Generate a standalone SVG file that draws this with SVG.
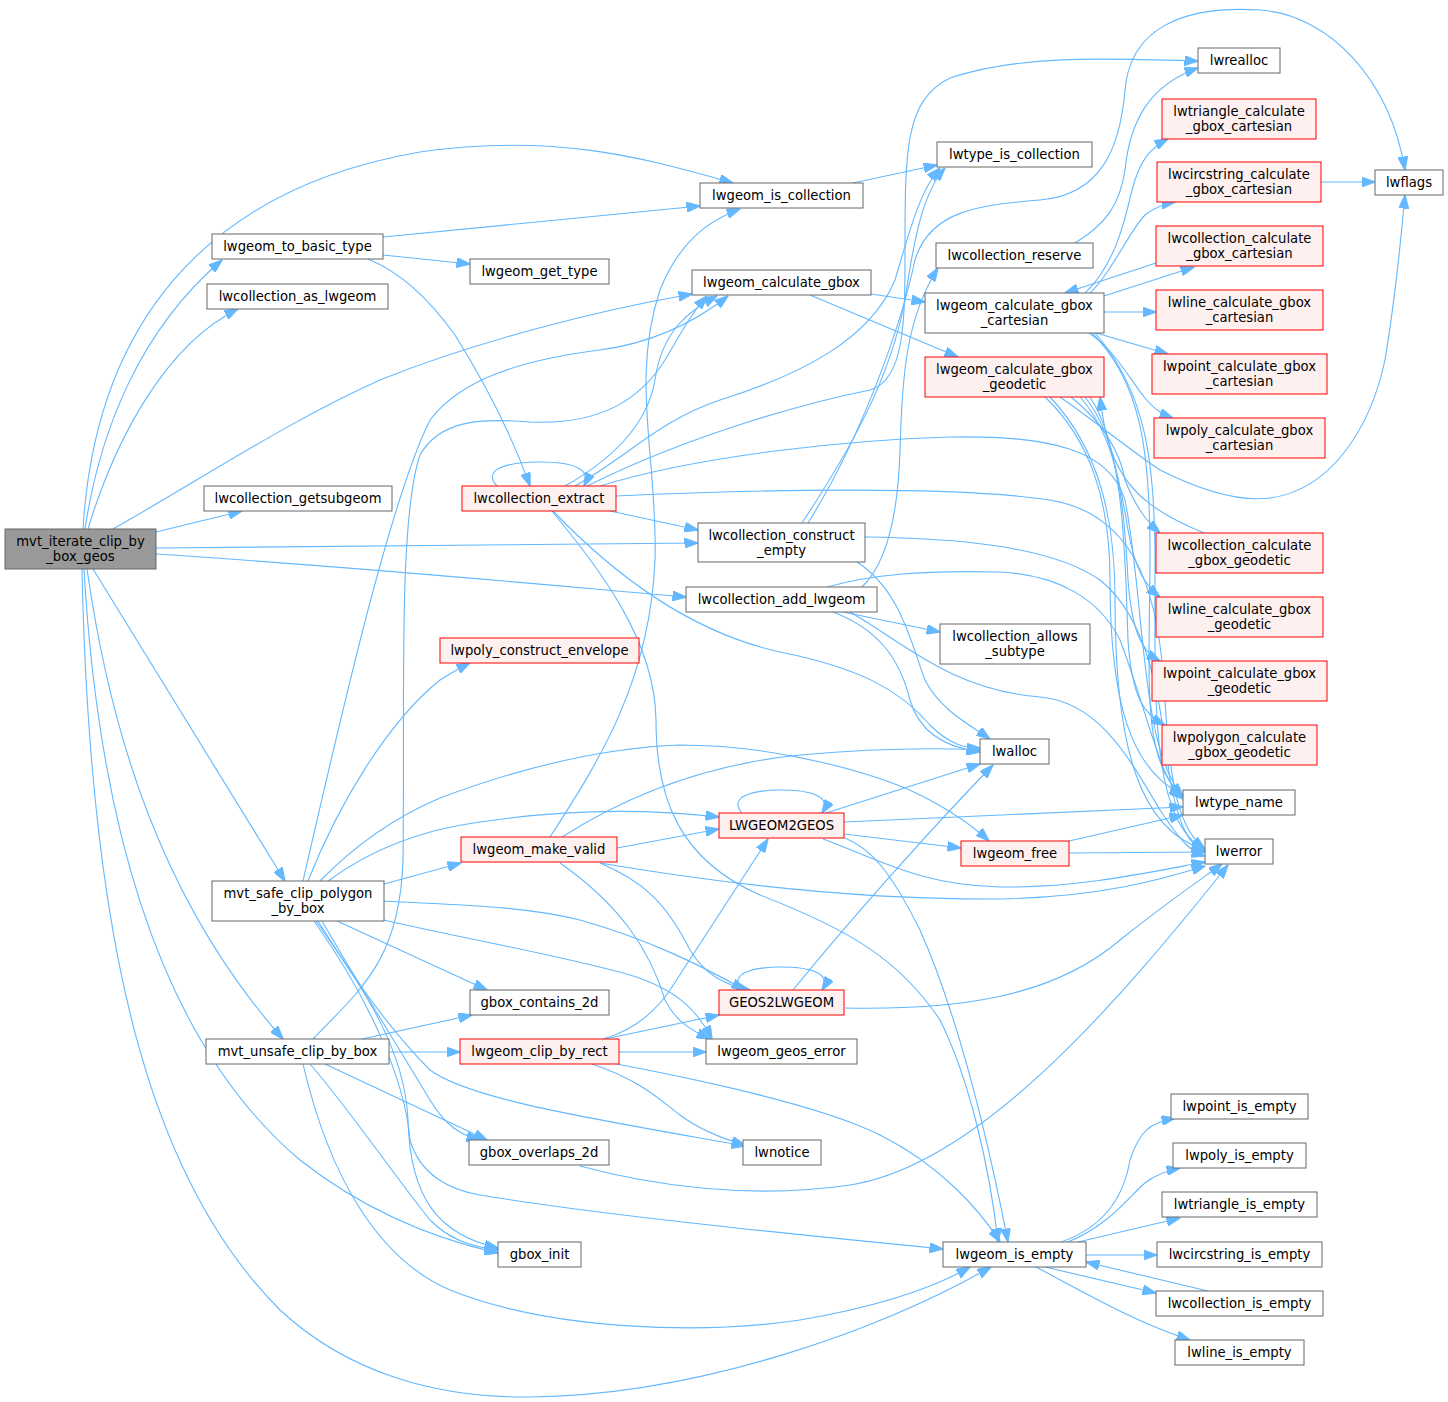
<svg xmlns="http://www.w3.org/2000/svg" width="1448" height="1402" viewBox="0 0 1448 1402">
<defs>
<marker id="a" viewBox="0 0 14 10" markerWidth="14" markerHeight="10" refX="13.5" refY="5" orient="auto" markerUnits="userSpaceOnUse">
<path d="M0,0 L14,5 L0,10 z" fill="#63b8ff" stroke="#63b8ff" stroke-width="1"/>
</marker>
<style>
.e path{fill:none;stroke:#63b8ff;stroke-width:1.1;marker-end:url(#a)}
.n rect{fill:#ffffff;stroke:#666666;stroke-width:1}
.r rect{fill:#fff0f0;stroke:#ff0000;stroke-width:1}
.root rect{fill:#999999;stroke:#666666;stroke-width:1}
text{font-family:"DejaVu Sans",Verdana,sans-serif;font-size:13.2px;text-anchor:middle;fill:#000000}
</style>
</defs>
<rect x="0" y="0" width="1448" height="1402" fill="#ffffff"/>
<g id="edges" class="e">
<path d="M83,529 C95,330 200,190 420,152 C560,132 650,160 733,183"/>
<path d="M85,529 C100,430 140,330 222,260"/>
<path d="M88,529 C115,440 165,345 238,309"/>
<path d="M113,529 C200,480 290,420 380,380 C480,340 600,310 692,294"/>
<path d="M156,532 L242,511"/>
<path d="M156,548 L698,543"/>
<path d="M156,554 C400,570 600,590 686,597"/>
<path d="M93,569 L285,881"/>
<path d="M87,569 C110,730 160,900 283,1039"/>
<path d="M84,569 C100,850 170,1050 300,1160 C370,1215 440,1240 498,1253"/>
<path d="M82,569 C90,950 150,1180 280,1310 C350,1375 440,1398 530,1397 C700,1395 880,1330 991,1267"/>
<path d="M383,237 L700,206"/>
<path d="M383,255 L470,264"/>
<path d="M368,259 C400,272 430,300 455,335 C480,375 510,430 530,486"/>
<path d="M497,486 C482,470 505,462 540,462 C575,462 592,470 584,486"/>
<path d="M565,486 C620,455 648,420 655,380 C662,330 690,310 717,296"/>
<path d="M575,486 C630,455 660,420 720,400 C800,375 870,340 895,280 C910,230 920,190 940,168"/>
<path d="M587,486 C700,430 820,400 870,390 C905,380 905,320 905,250 C905,150 905,100 950,78 C1020,55 1100,58 1198,61"/>
<path d="M600,486 C700,455 850,440 950,437 C1050,435 1110,450 1125,500 C1145,600 1140,750 1183,796"/>
<path d="M616,496 C750,490 950,485 1050,500 C1140,515 1160,600 1165,700 C1170,790 1180,830 1205,849"/>
<path d="M610,511 L698,530"/>
<path d="M553,511 C600,560 680,630 780,652 C860,668 900,690 930,725 C950,745 965,748 980,748"/>
<path d="M552,511 C600,570 655,640 656,720 C656,800 680,860 760,895 C850,930 900,960 940,1020 C970,1080 990,1170 998,1242"/>
<path d="M802,523 C850,450 890,380 905,300 C915,230 925,190 945,168"/>
<path d="M808,523 C860,440 900,330 915,260 C930,210 980,205 1040,200 C1100,195 1120,150 1125,90 C1130,30 1180,5 1260,10 C1330,15 1390,80 1405,170"/>
<path d="M857,562 C900,590 910,640 925,680 C940,710 970,725 990,739"/>
<path d="M865,537 C950,538 1050,545 1100,580 C1150,620 1160,700 1170,780 C1180,830 1190,845 1205,852"/>
<path d="M862,587 C885,565 898,520 900,450 C902,380 905,320 938,268"/>
<path d="M827,587 C870,575 920,570 1000,572 C1060,575 1100,600 1120,640 C1150,720 1160,780 1183,799"/>
<path d="M843,612 L940,632"/>
<path d="M833,612 C880,630 900,660 910,700 C920,735 950,748 980,752"/>
<path d="M850,612 C900,640 950,690 1040,697 C1100,702 1130,760 1160,810 C1180,840 1190,852 1205,856"/>
<path d="M1075,243 C1105,225 1120,205 1125,170 C1130,120 1150,85 1198,68"/>
<path d="M853,183 L937,165"/>
<path d="M871,294 L925,302"/>
<path d="M810,295 L958,357"/>
<path d="M1085,293 C1115,265 1125,220 1132,190 C1140,160 1150,148 1168,139"/>
<path d="M1090,293 C1110,275 1130,230 1145,215 C1155,207 1163,204 1175,202"/>
<path d="M1104,296 L1194,267"/>
<path d="M1156,263 L1065,293"/>
<path d="M1104,312 L1156,312"/>
<path d="M1096,333 L1168,354"/>
<path d="M1089,333 C1115,350 1130,380 1145,398 C1155,410 1162,414 1173,418"/>
<path d="M1092,333 C1140,380 1150,450 1150,550 C1150,680 1140,760 1183,797"/>
<path d="M1095,333 C1145,390 1155,460 1155,560 C1155,700 1150,820 1205,850"/>
<path d="M1321,182 L1375,182"/>
<path d="M1071,397 C1100,420 1120,450 1125,480 C1135,505 1145,520 1160,533"/>
<path d="M1204,533 C1160,515 1130,495 1115,460 C1105,435 1103,420 1100,397"/>
<path d="M1080,397 C1110,430 1120,480 1128,530 C1135,570 1145,585 1160,597"/>
<path d="M1085,397 C1120,440 1125,520 1128,580 C1132,630 1140,650 1160,661"/>
<path d="M1090,397 C1125,450 1125,560 1128,640 C1132,700 1145,715 1165,725"/>
<path d="M1060,397 C1100,425 1130,450 1160,470 C1200,490 1240,502 1270,498 C1330,490 1370,430 1385,360 C1395,300 1400,250 1405,195"/>
<path d="M1045,397 C1090,440 1110,500 1110,580 C1110,700 1130,770 1183,795"/>
<path d="M1050,397 C1100,450 1115,520 1115,600 C1115,750 1140,830 1205,850"/>
<path d="M742,813 C728,797 752,790 781,790 C812,790 832,797 822,813"/>
<path d="M826,813 L980,764"/>
<path d="M844,822 L1183,807"/>
<path d="M844,834 L961,848"/>
<path d="M823,839 C880,860 920,885 1000,887 C1080,888 1150,872 1205,862"/>
<path d="M845,838 C870,848 890,870 920,930 C960,1020 990,1150 1008,1242"/>
<path d="M617,848 L719,829"/>
<path d="M550,837 C600,760 650,680 655,560 C658,460 630,380 660,290 C680,240 710,220 740,209"/>
<path d="M562,837 C620,800 700,765 800,755 C880,748 940,748 980,750"/>
<path d="M600,863 C700,880 850,900 1000,899 C1100,897 1160,880 1205,866"/>
<path d="M600,863 C640,880 665,900 690,950 C705,975 725,985 750,990"/>
<path d="M560,863 C620,905 650,950 665,1000 C675,1020 690,1030 710,1039"/>
<path d="M742,990 C728,974 752,967 781,967 C812,967 832,974 822,990"/>
<path d="M793,990 C850,920 930,830 993,765"/>
<path d="M845,1008 C950,1010 1050,1000 1120,940 C1170,900 1200,880 1222,864"/>
<path d="M1069,841 L1183,815"/>
<path d="M1069,853 L1205,852"/>
<path d="M580,1166 C650,1185 750,1200 850,1185 C980,1165 1120,1000 1228,865"/>
<path d="M603,1039 C635,1030 655,1012 670,990 L768,839"/>
<path d="M605,1039 L719,1015"/>
<path d="M619,1052 L706,1052"/>
<path d="M592,1064 C640,1080 660,1100 680,1115 C700,1130 720,1138 745,1145"/>
<path d="M617,1064 C700,1080 820,1105 880,1135 C940,1165 980,1210 1000,1242"/>
<path d="M303,881 C340,720 390,500 430,420 C460,380 520,360 600,350 C660,342 700,318 728,296"/>
<path d="M308,881 C340,800 390,720 440,680 C455,670 462,667 470,663"/>
<path d="M320,881 C360,840 400,815 440,798 C520,768 600,748 680,745 C780,745 880,775 920,795 C950,810 975,828 989,841"/>
<path d="M328,881 C370,850 420,830 480,822 C560,810 640,808 719,817"/>
<path d="M384,884 L461,863"/>
<path d="M384,901 C450,905 520,905 580,920 C650,940 700,965 745,990"/>
<path d="M384,920 C460,938 560,955 630,975 C680,990 700,1015 712,1039"/>
<path d="M337,921 L487,990"/>
<path d="M322,921 C350,970 400,1050 430,1100 C445,1125 460,1135 480,1140"/>
<path d="M318,921 C355,980 390,1030 430,1070 C470,1100 600,1120 745,1146"/>
<path d="M316,921 C365,990 405,1050 408,1120 C410,1200 440,1235 498,1248"/>
<path d="M314,921 C370,1000 405,1080 410,1140 C420,1175 450,1190 480,1195 C600,1215 800,1235 943,1249"/>
<path d="M313,1039 C360,990 400,960 403,860 C405,700 398,520 420,455 C440,420 480,418 530,422 C600,425 640,400 665,360 C680,335 690,315 707,296"/>
<path d="M362,1039 L472,1015"/>
<path d="M389,1052 L460,1052"/>
<path d="M325,1064 L487,1140"/>
<path d="M310,1064 C350,1110 390,1170 430,1220 C450,1240 470,1246 498,1250"/>
<path d="M303,1064 C330,1180 380,1260 450,1290 C550,1330 700,1335 800,1320 C870,1308 930,1290 970,1267"/>
<path d="M1061,1242 C1110,1225 1125,1190 1130,1160 C1140,1130 1150,1123 1175,1118"/>
<path d="M1068,1242 C1110,1225 1130,1195 1145,1183 C1155,1175 1165,1171 1180,1168"/>
<path d="M1078,1242 L1180,1218"/>
<path d="M1086,1255 L1157,1255"/>
<path d="M1045,1267 L1156,1293"/>
<path d="M1208,1291 L1086,1262"/>
<path d="M1036,1267 C1080,1290 1130,1320 1190,1340"/>
</g>
<g id="node-mvt_iterate_clip_by_box_geos" class="root"><rect x="5" y="529" width="151" height="40"/><text x="80.5" y="545.5">mvt_iterate_clip_by</text><text x="80.5" y="560.5">_box_geos</text></g>
<g id="node-lwgeom_to_basic_type" class="n"><rect x="212" y="234" width="171" height="25"/><text x="297.5" y="251">lwgeom_to_basic_type</text></g>
<g id="node-lwcollection_as_lwgeom" class="n"><rect x="207" y="284" width="181" height="25"/><text x="297.5" y="301">lwcollection_as_lwgeom</text></g>
<g id="node-lwcollection_getsubgeom" class="n"><rect x="204" y="486" width="188" height="25"/><text x="298" y="503">lwcollection_getsubgeom</text></g>
<g id="node-lwgeom_is_collection" class="n"><rect x="700" y="183" width="163" height="25"/><text x="781.5" y="200">lwgeom_is_collection</text></g>
<g id="node-lwgeom_get_type" class="n"><rect x="470" y="259" width="139" height="25"/><text x="539.5" y="276">lwgeom_get_type</text></g>
<g id="node-lwgeom_calculate_gbox" class="n"><rect x="692" y="270" width="179" height="25"/><text x="781.5" y="287">lwgeom_calculate_gbox</text></g>
<g id="node-lwcollection_extract" class="r"><rect x="462" y="486" width="154" height="25"/><text x="539" y="503">lwcollection_extract</text></g>
<g id="node-lwcollection_construct_empty" class="n"><rect x="698" y="523" width="167" height="39"/><text x="781.5" y="539.5">lwcollection_construct</text><text x="781.5" y="554.5">_empty</text></g>
<g id="node-lwcollection_add_lwgeom" class="n"><rect x="686" y="587" width="191" height="25"/><text x="781.5" y="604">lwcollection_add_lwgeom</text></g>
<g id="node-lwpoly_construct_envelope" class="r"><rect x="440" y="638" width="199" height="25"/><text x="539.5" y="655">lwpoly_construct_envelope</text></g>
<g id="node-mvt_safe_clip_polygon_by_box" class="n"><rect x="212" y="881" width="172" height="40"/><text x="298" y="897.5">mvt_safe_clip_polygon</text><text x="298" y="912.5">_by_box</text></g>
<g id="node-LWGEOM2GEOS" class="r"><rect x="719" y="813" width="125" height="25"/><text x="781.5" y="830">LWGEOM2GEOS</text></g>
<g id="node-lwgeom_make_valid" class="r"><rect x="461" y="837" width="156" height="25"/><text x="539" y="854">lwgeom_make_valid</text></g>
<g id="node-gbox_contains_2d" class="n"><rect x="470" y="990" width="139" height="25"/><text x="539.5" y="1007">gbox_contains_2d</text></g>
<g id="node-GEOS2LWGEOM" class="r"><rect x="719" y="990" width="125" height="25"/><text x="781.5" y="1007">GEOS2LWGEOM</text></g>
<g id="node-mvt_unsafe_clip_by_box" class="n"><rect x="206" y="1039" width="183" height="25"/><text x="297.5" y="1056">mvt_unsafe_clip_by_box</text></g>
<g id="node-lwgeom_clip_by_rect" class="r"><rect x="460" y="1039" width="159" height="25"/><text x="539.5" y="1056">lwgeom_clip_by_rect</text></g>
<g id="node-lwgeom_geos_error" class="n"><rect x="706" y="1039" width="151" height="25"/><text x="781.5" y="1056">lwgeom_geos_error</text></g>
<g id="node-gbox_overlaps_2d" class="n"><rect x="469" y="1140" width="140" height="25"/><text x="539" y="1157">gbox_overlaps_2d</text></g>
<g id="node-lwnotice" class="n"><rect x="743" y="1140" width="78" height="25"/><text x="782" y="1157">lwnotice</text></g>
<g id="node-gbox_init" class="n"><rect x="498" y="1242" width="83" height="25"/><text x="539.5" y="1259">gbox_init</text></g>
<g id="node-lwgeom_is_empty" class="n"><rect x="943" y="1242" width="143" height="25"/><text x="1014.5" y="1259">lwgeom_is_empty</text></g>
<g id="node-lwrealloc" class="n"><rect x="1198" y="48" width="82" height="25"/><text x="1239" y="65">lwrealloc</text></g>
<g id="node-lwtype_is_collection" class="n"><rect x="937" y="142" width="155" height="25"/><text x="1014.5" y="159">lwtype_is_collection</text></g>
<g id="node-lwtriangle_calculate_gbox_cartesian" class="r"><rect x="1162" y="99" width="154" height="40"/><text x="1239" y="115.5">lwtriangle_calculate</text><text x="1239" y="130.5">_gbox_cartesian</text></g>
<g id="node-lwcircstring_calculate_gbox_cartesian" class="r"><rect x="1157" y="162" width="164" height="40"/><text x="1239" y="178.5">lwcircstring_calculate</text><text x="1239" y="193.5">_gbox_cartesian</text></g>
<g id="node-lwflags" class="n"><rect x="1375" y="170" width="68" height="25"/><text x="1409" y="187">lwflags</text></g>
<g id="node-lwcollection_reserve" class="n"><rect x="936" y="243" width="157" height="25"/><text x="1014.5" y="260">lwcollection_reserve</text></g>
<g id="node-lwcollection_calculate_gbox_cartesian" class="r"><rect x="1156" y="226" width="167" height="40"/><text x="1239.5" y="242.5">lwcollection_calculate</text><text x="1239.5" y="257.5">_gbox_cartesian</text></g>
<g id="node-lwgeom_calculate_gbox_cartesian" class="n"><rect x="925" y="293" width="179" height="40"/><text x="1014.5" y="309.5">lwgeom_calculate_gbox</text><text x="1014.5" y="324.5">_cartesian</text></g>
<g id="node-lwline_calculate_gbox_cartesian" class="r"><rect x="1156" y="290" width="167" height="40"/><text x="1239.5" y="306.5">lwline_calculate_gbox</text><text x="1239.5" y="321.5">_cartesian</text></g>
<g id="node-lwgeom_calculate_gbox_geodetic" class="r"><rect x="925" y="357" width="179" height="40"/><text x="1014.5" y="373.5">lwgeom_calculate_gbox</text><text x="1014.5" y="388.5">_geodetic</text></g>
<g id="node-lwpoint_calculate_gbox_cartesian" class="r"><rect x="1152" y="354" width="175" height="40"/><text x="1239.5" y="370.5">lwpoint_calculate_gbox</text><text x="1239.5" y="385.5">_cartesian</text></g>
<g id="node-lwpoly_calculate_gbox_cartesian" class="r"><rect x="1154" y="418" width="171" height="40"/><text x="1239.5" y="434.5">lwpoly_calculate_gbox</text><text x="1239.5" y="449.5">_cartesian</text></g>
<g id="node-lwcollection_calculate_gbox_geodetic" class="r"><rect x="1156" y="533" width="167" height="40"/><text x="1239.5" y="549.5">lwcollection_calculate</text><text x="1239.5" y="564.5">_gbox_geodetic</text></g>
<g id="node-lwline_calculate_gbox_geodetic" class="r"><rect x="1156" y="597" width="167" height="40"/><text x="1239.5" y="613.5">lwline_calculate_gbox</text><text x="1239.5" y="628.5">_geodetic</text></g>
<g id="node-lwpoint_calculate_gbox_geodetic" class="r"><rect x="1152" y="661" width="175" height="40"/><text x="1239.5" y="677.5">lwpoint_calculate_gbox</text><text x="1239.5" y="692.5">_geodetic</text></g>
<g id="node-lwpolygon_calculate_gbox_geodetic" class="r"><rect x="1162" y="725" width="155" height="40"/><text x="1239.5" y="741.5">lwpolygon_calculate</text><text x="1239.5" y="756.5">_gbox_geodetic</text></g>
<g id="node-lwcollection_allows_subtype" class="n"><rect x="940" y="624" width="150" height="40"/><text x="1015" y="640.5">lwcollection_allows</text><text x="1015" y="655.5">_subtype</text></g>
<g id="node-lwalloc" class="n"><rect x="980" y="739" width="69" height="25"/><text x="1014.5" y="756">lwalloc</text></g>
<g id="node-lwtype_name" class="n"><rect x="1183" y="790" width="112" height="25"/><text x="1239" y="807">lwtype_name</text></g>
<g id="node-lwerror" class="n"><rect x="1205" y="839" width="68" height="25"/><text x="1239" y="856">lwerror</text></g>
<g id="node-lwgeom_free" class="r"><rect x="961" y="841" width="108" height="25"/><text x="1015" y="858">lwgeom_free</text></g>
<g id="node-lwpoint_is_empty" class="n"><rect x="1171" y="1094" width="137" height="25"/><text x="1239.5" y="1111">lwpoint_is_empty</text></g>
<g id="node-lwpoly_is_empty" class="n"><rect x="1173" y="1143" width="133" height="25"/><text x="1239.5" y="1160">lwpoly_is_empty</text></g>
<g id="node-lwtriangle_is_empty" class="n"><rect x="1162" y="1192" width="155" height="25"/><text x="1239.5" y="1209">lwtriangle_is_empty</text></g>
<g id="node-lwcircstring_is_empty" class="n"><rect x="1157" y="1242" width="165" height="25"/><text x="1239.5" y="1259">lwcircstring_is_empty</text></g>
<g id="node-lwcollection_is_empty" class="n"><rect x="1156" y="1291" width="167" height="25"/><text x="1239.5" y="1308">lwcollection_is_empty</text></g>
<g id="node-lwline_is_empty" class="n"><rect x="1175" y="1340" width="129" height="25"/><text x="1239.5" y="1357">lwline_is_empty</text></g>
</svg>
